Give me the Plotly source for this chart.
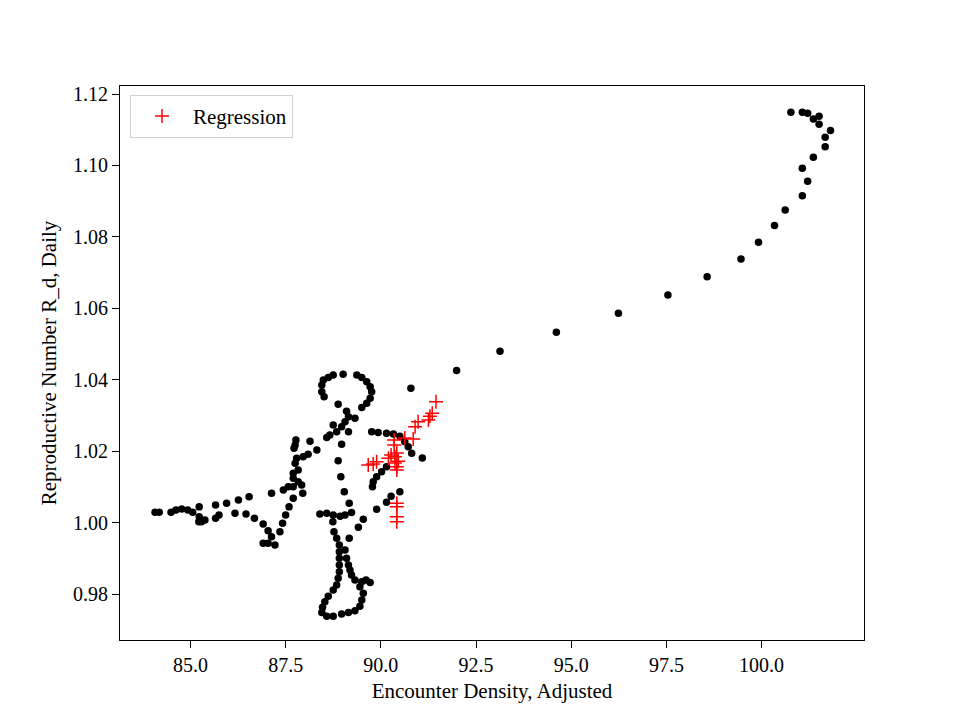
import plotly.graph_objects as go

# Observed trajectory (black dots)
obs_x = [
    100.77, 101.07, 101.21, 101.36, 101.51, 101.51, 101.81, 101.67, 101.67, 101.36,
    101.07, 101.21, 101.07, 100.62, 100.34, 99.92, 99.46, 98.57, 97.54, 96.24,
    94.61, 93.13, 91.99, 90.79,
    88.49, 88.62, 88.75, 89.01, 89.37, 89.50, 89.63, 89.72, 89.76, 89.72,
    89.63, 89.50, 88.45, 88.45, 88.51, 88.88, 89.10, 89.15, 89.32, 89.06,
    88.75, 88.97, 89.15, 88.84, 88.66, 88.58, 88.14, 88.97, 88.88, 88.95,
    89.04, 89.17,
    89.76, 89.93, 90.15, 90.33, 90.50, 90.63, 90.72, 90.81, 91.09, 90.15,
    90.02, 89.89, 89.80, 89.78, 90.50, 90.27, 90.15, 89.89, 89.54, 89.41,
    89.17, 89.06, 89.10, 89.15, 89.19, 89.23, 89.32, 89.50, 89.61, 89.72,
    89.45, 89.54, 89.50, 89.45, 89.32, 89.15, 88.97, 88.75, 88.58, 88.45,
    88.47, 88.53, 88.62, 88.75, 88.84, 88.88, 88.91, 88.91, 88.91, 88.91,
    88.91, 88.84, 88.77, 88.74, 88.40, 88.58, 88.75, 88.93, 89.06, 89.23,
    87.77, 87.75, 87.72, 87.79, 87.96, 88.09, 88.32, 87.75, 87.83, 87.70,
    87.70, 87.83, 87.92, 87.95, 87.70, 87.57, 87.44, 87.13, 87.70, 87.59,
    87.50, 87.42, 87.35, 87.22, 87.04, 86.91, 87.13, 87.04, 86.91, 86.68,
    86.46, 86.17, 86.54, 86.26, 85.95, 85.66, 85.75, 85.66, 85.38, 85.29,
    85.22, 85.23, 85.23, 85.06, 84.93, 84.77, 84.62, 84.49, 84.18, 84.07,
]
obs_y = [
    1.1149, 1.1149, 1.1146, 1.1130, 1.1138, 1.1115, 1.1098, 1.1079, 1.1052, 1.1023,
    1.0992, 1.0956, 1.0915, 1.0875, 1.0832, 1.0785, 1.0738, 1.0688, 1.0637, 1.0586,
    1.0533, 1.0480, 1.0426, 1.0376,
    1.0399, 1.0406, 1.0413, 1.0415, 1.0413, 1.0406, 1.0394, 1.0380, 1.0366, 1.0348,
    1.0334, 1.0322, 1.0385, 1.0366, 1.0352, 1.0331, 1.0312, 1.0296, 1.0292, 1.0282,
    1.0273, 1.0268, 1.0254, 1.0254, 1.0245, 1.0238, 1.0228, 1.0219, 1.0173, 1.0128,
    1.0086, 1.0054,
    1.0254, 1.0252, 1.0250, 1.0248, 1.0242, 1.0226, 1.0212, 1.0194, 1.0181, 1.0156,
    1.0142, 1.0128, 1.0114, 1.0100, 1.0086, 1.0074, 1.0057, 1.0037, 1.0009, 0.9987,
    0.9956, 0.9923, 0.9900, 0.9881, 0.9867, 0.9853, 0.9839, 0.9834, 0.9839, 0.9832,
    0.9820, 0.9802, 0.9783, 0.9766, 0.9753, 0.9748, 0.9744, 0.9738, 0.9738, 0.9748,
    0.9763, 0.9778, 0.9794, 0.9811, 0.9825, 0.9844, 0.9862, 0.9881, 0.9900, 0.9918,
    0.9937, 0.9956, 0.9974, 1.0002, 1.0024, 1.0026, 1.0021, 1.0018, 1.0021, 1.0028,
    1.0231, 1.0217, 1.0208, 1.0180, 1.0184, 1.0191, 1.0203, 1.0166, 1.0147, 1.0138,
    1.0124, 1.0114, 1.0105, 1.0082, 1.0100, 1.0100, 1.0091, 1.0082, 1.0068, 1.0044,
    1.0021, 0.9998, 0.9974, 0.9937, 0.9942, 0.9942, 0.9960, 0.9977, 0.9996, 1.0012,
    1.0024, 1.0026, 1.0072, 1.0063, 1.0054, 1.0049, 1.0021, 1.0012, 1.0007, 1.0002,
    1.0002, 1.0016, 1.0044, 1.0029, 1.0035, 1.0038, 1.0035, 1.0029, 1.0029, 1.0029,
]

# Regression points (red crosses)
reg_x = [
    91.45, 91.35, 91.29, 91.25, 90.98, 90.90, 90.85, 90.63, 90.35, 90.35,
    90.27, 90.42, 90.37, 90.46, 90.37, 90.42, 90.42, 89.89, 89.80, 89.67,
    90.20, 90.42, 90.42, 90.42, 90.42,
]
reg_y = [
    1.0338, 1.0306, 1.0298, 1.0287, 1.0282, 1.0268, 1.0234, 1.0237, 1.0231, 1.0217,
    1.0189, 1.0195, 1.0184, 1.0172, 1.0167, 1.0156, 1.0147, 1.0170, 1.0164, 1.0161,
    1.0180, 1.0054, 1.0044, 1.0016, 1.0002,
]

x_ticks = [85.0, 87.5, 90.0, 92.5, 95.0, 97.5, 100.0]
y_ticks = [0.98, 1.00, 1.02, 1.04, 1.06, 1.08, 1.10, 1.12]

FONT = "Liberation Serif, Times New Roman, serif"

fig = go.Figure()
fig.add_trace(go.Scatter(
    x=obs_x, y=obs_y, mode="markers", showlegend=False,
    marker=dict(color="black", size=7.5, line=dict(width=0)),
))
fig.add_trace(go.Scatter(
    x=reg_x, y=reg_y, mode="markers", name="Regression",
    marker=dict(symbol="cross-thin", size=10, color="red",
                line=dict(color="red", width=1.5)),
))

axis_common = dict(
    showgrid=False, zeroline=False, showline=True, linecolor="black",
    linewidth=1.2, mirror=True, ticks="outside", ticklen=7, tickwidth=1.2,
    tickcolor="black", tickfont=dict(family=FONT, size=20, color="black"),
)

fig.update_layout(
    width=960, height=720,
    paper_bgcolor="white", plot_bgcolor="white",
    margin=dict(l=112, r=104, t=78, b=88),
    font=dict(family=FONT, color="black"),
    xaxis=dict(range=[83.15, 102.69], tickvals=x_ticks,
               ticktext=[f"{v:.1f}" for v in x_ticks],
               title=dict(text="Encounter Density, Adjusted",
                          font=dict(family=FONT, size=21), standoff=8),
               **axis_common),
    yaxis=dict(range=[0.96712, 1.12224], tickvals=y_ticks,
               ticktext=[f"{v:.2f}" for v in y_ticks],
               title=dict(text="Reproductive Number R_d, Daily",
                          font=dict(family=FONT, size=21), standoff=10),
               **axis_common),
    legend=dict(x=0.0134, y=0.984, xanchor="left", yanchor="top",
                bgcolor="rgba(255,255,255,0.8)", bordercolor="#d0d0d0",
                borderwidth=1, font=dict(family=FONT, size=21),
                itemwidth=52),
)

fig.write_html("out.html")
